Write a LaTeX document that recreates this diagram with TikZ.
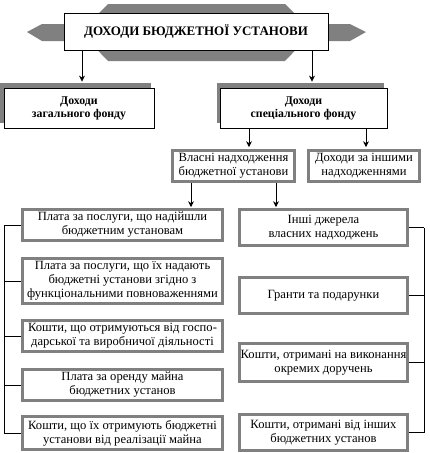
\documentclass[tikz,border=0pt]{standalone}
\usepackage{fontspec}
\setmainfont{Liberation Serif}
\usepackage{xcolor}
\usetikzlibrary{arrows.meta,shadows}
\definecolor{BFGray}{HTML}{808080}

\begin{document}
\begin{tikzpicture}[
    x=1pt,y=-1pt,
    head/.style={draw=black, thick, fill=white, minimum width=264pt, minimum height=37pt, font=\fontsize{13}{15}\selectfont\bfseries},
    fund/.style={draw=black, thick, fill=white, align=center, minimum height=40pt, font=\fontsize{11.8}{13}\selectfont\bfseries,
      general shadow={fill=BFGray, shadow xshift=-3.5pt, shadow yshift=5.5pt}},
    item/.style={draw=BFGray, line width=2.6pt, fill=white, align=center, inner sep=0.5pt, font=\fontsize{12.6}{14}\selectfont},
    arr/.style={-{Stealth[length=6pt,width=6pt]}, thick},
    bracket/.style={thick}
  ]
    \useasboundingbox (0,0) rectangle (429,453);

    % banner behind the title
    \fill[BFGray] (108,4) -- (285,4) -- (313,32) -- (285,61) -- (108,61) -- (80,32) -- cycle;
    \fill[BFGray] (27,32) -- (42,24) -- (350,24) -- (366,32) -- (350,41) -- (42,41) -- cycle;
    \node[head] (title) at (196,31.5) {ДОХОДИ БЮДЖЕТНОЇ УСТАНОВИ};

    \node[fund, minimum width=150pt] (gen) at (79,108) {Доходи\\загального фонду};
    \node[fund, minimum width=167pt] (spec) at (303.5,108) {Доходи\\спеціального фонду};

    \node[item, minimum width=122pt, minimum height=31pt] (own) at (233.5,166) {Власні надходження\\бюджетної установи};
    \node[item, minimum width=111pt, minimum height=31pt] (other) at (364,166) {Доходи за іншими\\надходженнями};

    % left column
    \node[item, minimum width=200pt, minimum height=31pt] (L1) at (122.5,225) {Плата за послуги, що надійшли\\бюджетним установам};
    \node[item, minimum width=200pt, minimum height=45pt] (L2) at (122.5,281) {Плата за послуги, що їх надають\\бюджетні установи згідно з\\функціональними повноваженнями};
    \node[item, minimum width=200pt, minimum height=31pt] (L3) at (122.5,336) {Кошти, що отримуються від госпо-\\дарської та виробничої діяльності};
    \node[item, minimum width=200pt, minimum height=31pt] (L4) at (122.5,385) {Плата за оренду майна\\бюджетних установ};
    \node[item, minimum width=200pt, minimum height=33pt] (L5) at (122.5,433) {Кошти, що їх отримують бюджетні\\установи від реалізації майна};

    % right column
    \node[item, minimum width=168pt, minimum height=36pt] (R1) at (323.5,227.5) {Інші джерела\\власних надходжень};
    \node[item, minimum width=168pt, minimum height=36pt] (R2) at (323.5,295.5) {Гранти та подарунки};
    \node[item, minimum width=168pt, minimum height=38pt] (R3) at (323.5,362.5) {Кошти, отримані на виконання\\окремих доручень};
    \node[item, minimum width=168pt, minimum height=36pt] (R4) at (323.5,432.5) {Кошти, отримані від інших\\бюджетних установ};

    % arrows
    \draw[arr] ([xshift=3pt]gen.north |- title.south) -- ([xshift=3pt,yshift=6pt]gen.north);
    \draw[arr] ([xshift=8.5pt]spec.north |- title.south) -- ([xshift=8.5pt,yshift=6pt]spec.north);
    \draw[arr] ([xshift=15.5pt]own.north |- spec.south) -- ([xshift=15.5pt,yshift=2pt]own.north);
    \draw[arr] ([xshift=2pt]other.north |- spec.south) -- ([xshift=2pt,yshift=2pt]other.north);
    \draw[arr] ([xshift=-42.5pt]own.south) -- ([xshift=-42.5pt,yshift=1pt]own.south |- L1.north);
    \draw[arr] ([xshift=42.5pt]own.south) -- ([xshift=42.5pt,yshift=1pt]own.south |- R1.north);

    % brackets
    \coordinate (lb) at (4,0);
    \coordinate (rb) at (424,0);
    \foreach \n in {L1,L2,L3,L4,L5}{\draw[bracket] (\n.west) -- (\n.west -| lb);}
    \foreach \n in {R1,R2,R3,R4}{\draw[bracket] (\n.east) -- (\n.east -| rb);}
    \draw[bracket] (L1.west -| lb) -- (L5.west -| lb);
    \draw[bracket] (R1.east -| rb) -- (R4.east -| rb);
  \end{tikzpicture}
\end{document}
